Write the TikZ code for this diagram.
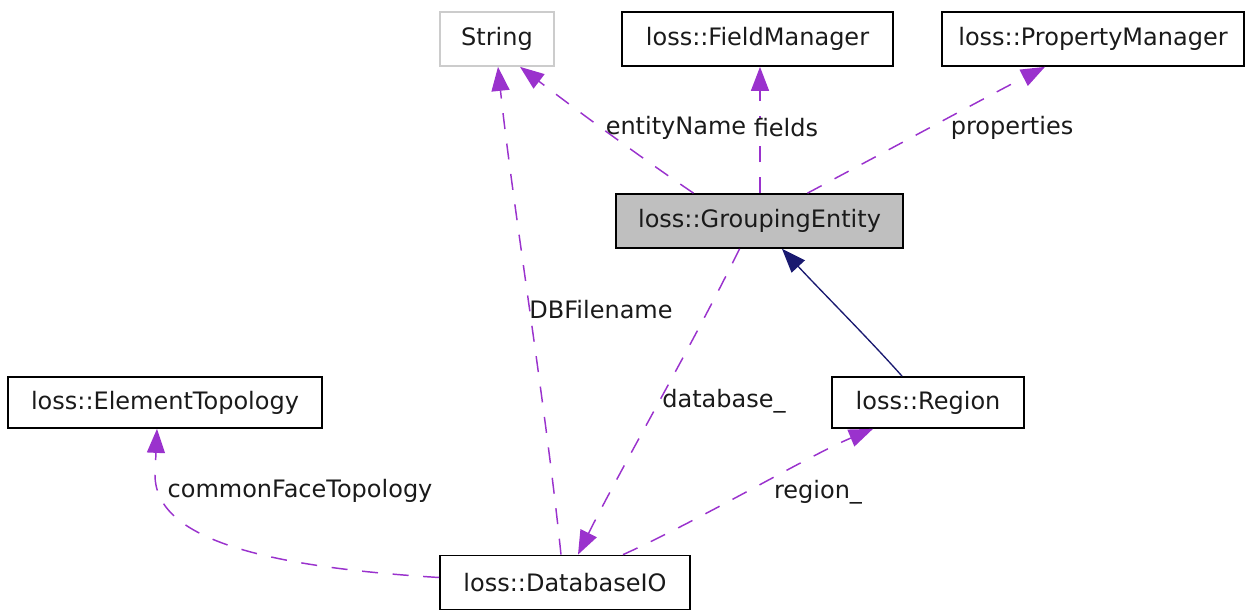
\documentclass[tikz,border=0pt]{standalone}
\usepackage{fontspec}
\setmainfont{DejaVu Sans}
\usetikzlibrary{arrows.meta,calc}
\definecolor{depc}{HTML}{9A32CD}
\definecolor{inhc}{HTML}{191970}
\definecolor{gefill}{HTML}{BFBFBF}
\definecolor{txtc}{HTML}{1A1A1A}
\begin{document}
\begin{tikzpicture}[x=0.75pt,y=-0.75pt,
  every node/.style={font=\fontsize{18pt}{21pt}\selectfont,text=txtc},
  box/.style={draw=black,line width=1.3pt,inner sep=0pt,minimum height=40.5pt},
  lbl/.style={inner sep=0pt},
  dep/.style={draw=depc,line width=1.1pt,dash pattern=on 12pt off 11pt,
    -{Triangle[length=18pt,width=13.5pt,fill=depc,sep=0pt]}},
  inh/.style={draw=inhc,line width=1pt,
    -{Triangle[length=18pt,width=13.5pt,fill=inhc]}}]
\useasboundingbox (0,0) rectangle (1256,610);
% nodes
\node[box,draw=gefill!80!white,minimum width=85.5pt] (str) at (497,39) {String};
\node[box,minimum width=203.25pt] (fm) at (757.5,39) {loss::FieldManager};
\node[box,minimum width=226.5pt] (pm) at (1093,39) {loss::PropertyManager};
\node[box,fill=gefill,minimum width=215.25pt] (ge) at (759.5,221) {loss::GroupingEntity};
\node[box,minimum width=235.5pt,minimum height=38.25pt] (et) at (165,402.5) {loss::ElementTopology};
\node[box,minimum width=144pt,minimum height=38.25pt] (rg) at (928,402.5) {loss::Region};
\node[box,minimum width=187.5pt] (db) at (565,582.5) {loss::DatabaseIO};
\coordinate (gef) at ($(ge.north)+(0.5,0)$);
% connectors
\draw[dep] ($(ge.north)+(-66,0)$) .. controls (630,150) and (570,105) .. ($(str.south)+(23,0)$);
\draw[dep] (gef) -- (gef |- fm.south);
\draw[dep] ($(ge.north)+(48,0)$) .. controls (870,160) and (990,95) .. ($(pm.south)+(-48,0)$);
\draw[dep] ($(db.north)+(-4,0)$) .. controls (545,400) and (512,200) .. ($(str.south)+(1,0)$);
\draw[dep] ($(ge.south)+(-20,0)$) .. controls (695,340) and (620,470) .. ($(db.north)+(13,0)$);
\draw[inh] ($(rg.north)+(-26,0)$) .. controls (870,340) and (820,290) .. ($(ge.south)+(22.5,0)$);
\draw[dep] ($(db.north)+(58,0)$) .. controls (700,520) and (810,455) .. ($(rg.south)+(-55,0)$);
\draw[dep] ($(db.west)+(0,-5)$) .. controls (250,566) and (155,535) .. (155,475) -- ($(et.south)+(-8,0)$);
% labels
\node[lbl] (l1) at (676,128) {entityName};
\node[lbl,fill=white] (l2) at (786,128) {fields};
\node[lbl] (l3) at (1012,128) {properties};
\node[lbl] (l4) at (601,310) {DBFilename};
\node[lbl] (l5) at (724,401) {database\_};
\node[lbl] (l6) at (818,492) {region\_};
\node[lbl] (l7) at (300,491) {commonFaceTopology};
\end{tikzpicture}
\end{document}
